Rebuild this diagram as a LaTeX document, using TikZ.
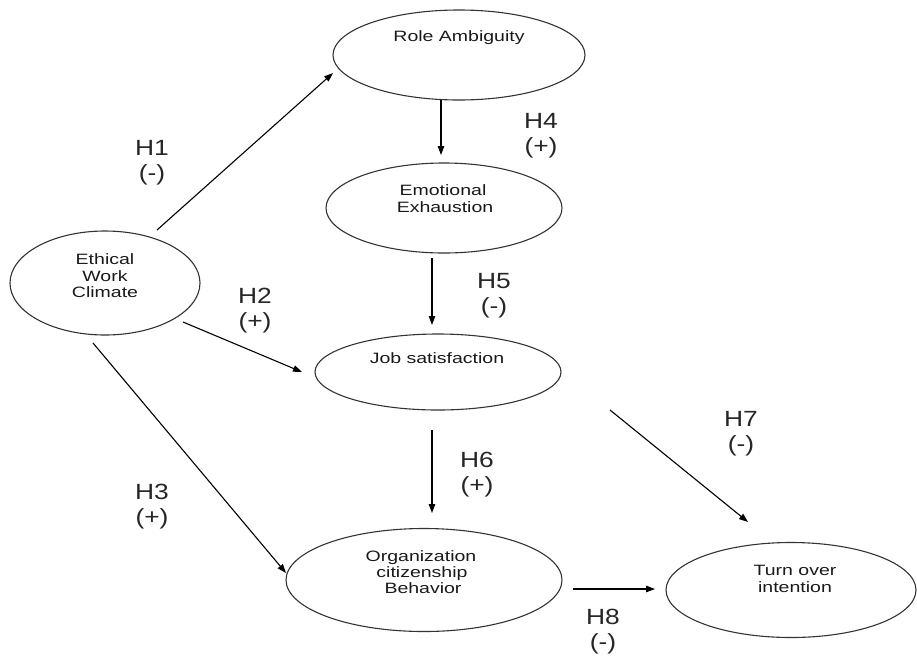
\documentclass[tikz,border=0pt]{standalone}
\usepackage{fontspec}
\usetikzlibrary{arrows.meta,shapes.geometric,calc}
\newfontfamily\nodefont[FakeStretch=1.3]{Liberation Sans}
\newfontfamily\labfont[FakeStretch=1.2]{Liberation Sans}
\begin{document}
\begin{tikzpicture}[x=1pt,y=-1pt,
  ell/.style={draw=black!80,line width=1.1pt,ellipse,inner sep=0pt},
  ntext/.style={font=\nodefont\fontsize{15}{17}\selectfont,anchor=base,inner sep=0pt,text=black!90},
  lab/.style={font=\labfont\fontsize{22}{25}\selectfont,anchor=base,inner sep=0pt,text=black!85},
  arr/.style={line width=1.1pt,-{Triangle[length=9pt,width=6.5pt]}}]
\useasboundingbox (0,0) rectangle (917,659);
% ellipses
\node[ell,minimum width=252,minimum height=90] (ra) at (459,55) {};
\node[ell,minimum width=236,minimum height=90] (ee) at (444,208) {};
\node[ell,minimum width=190,minimum height=104] (ewc) at (105,283) {};
\node[ell,minimum width=246,minimum height=76] (js) at (438,372) {};
\node[ell,minimum width=276,minimum height=103] (ocb) at (424,580) {};
\node[ell,minimum width=250,minimum height=95] (toi) at (791,590) {};
% texts
\node[ntext] (tra) at (459,41) {Role Ambiguity};
\node[ntext] (tee1) at (443,195) {Emotional};
\node[ntext] (tee2) at (445,212) {Exhaustion};
\node[ntext] (tewc1) at (105,264) {Ethical};
\node[ntext] (tewc2) at (105,281) {Work};
\node[ntext] (tewc3) at (105,297) {Climate};
\node[ntext] (tjs) at (437,363) {Job satisfaction};
\node[ntext] (tocb1) at (421,561) {Organization};
\node[ntext] (tocb2) at (422,577) {citizenship};
\node[ntext] (tocb3) at (423,593) {Behavior};
\node[ntext] (ttoi1) at (795,575) {Turn over};
\node[ntext] (ttoi2) at (795,592) {intention};
% labels
\node[lab] (h1) at (152,155) {H1};
\node[lab] (h1s) at (152,180) {(-)};
\node[lab] (h2) at (255,303) {H2};
\node[lab] (h2s) at (255,328) {(+)};
\node[lab] (h3) at (152,499) {H3};
\node[lab] (h3s) at (152,524) {(+)};
\node[lab] (h4) at (541,128) {H4};
\node[lab] (h4s) at (541,153) {(+)};
\node[lab] (h5) at (494,288) {H5};
\node[lab] (h5s) at (494,313) {(-)};
\node[lab] (h6) at (477,467) {H6};
\node[lab] (h6s) at (477,492) {(+)};
\node[lab] (h7) at (741,426) {H7};
\node[lab] (h7s) at (741,451) {(-)};
\node[lab] (h8) at (603,624) {H8};
\node[lab] (h8s) at (603,649) {(-)};
% arrows
\draw[arr] ($(ewc)+(52,-53)$) -- ($(ra)+(-126,18)$);
\draw[arr] ($(ra)+(-18,45)$) -- ($(ee)+(-3,-53)$);
\draw[arr] ($(ee)+(-12,50)$) -- ($(js)+(-6,-47)$);
\draw[arr] ($(ewc)+(78,39)$) -- ($(js)+(-136,0)$);
\draw[arr] ($(ewc)+(-12,60)$) -- ($(ocb)+(-138,-7)$);
\draw[arr] ($(js)+(-6,58)$) -- ($(ocb)+(8,-67)$);
\draw[arr] ($(js)+(172,38)$) -- ($(toi)+(-43,-68)$);
\draw[arr] ($(ocb)+(149,9)$) -- ($(toi)+(-136,-1)$);
\end{tikzpicture}
\end{document}
